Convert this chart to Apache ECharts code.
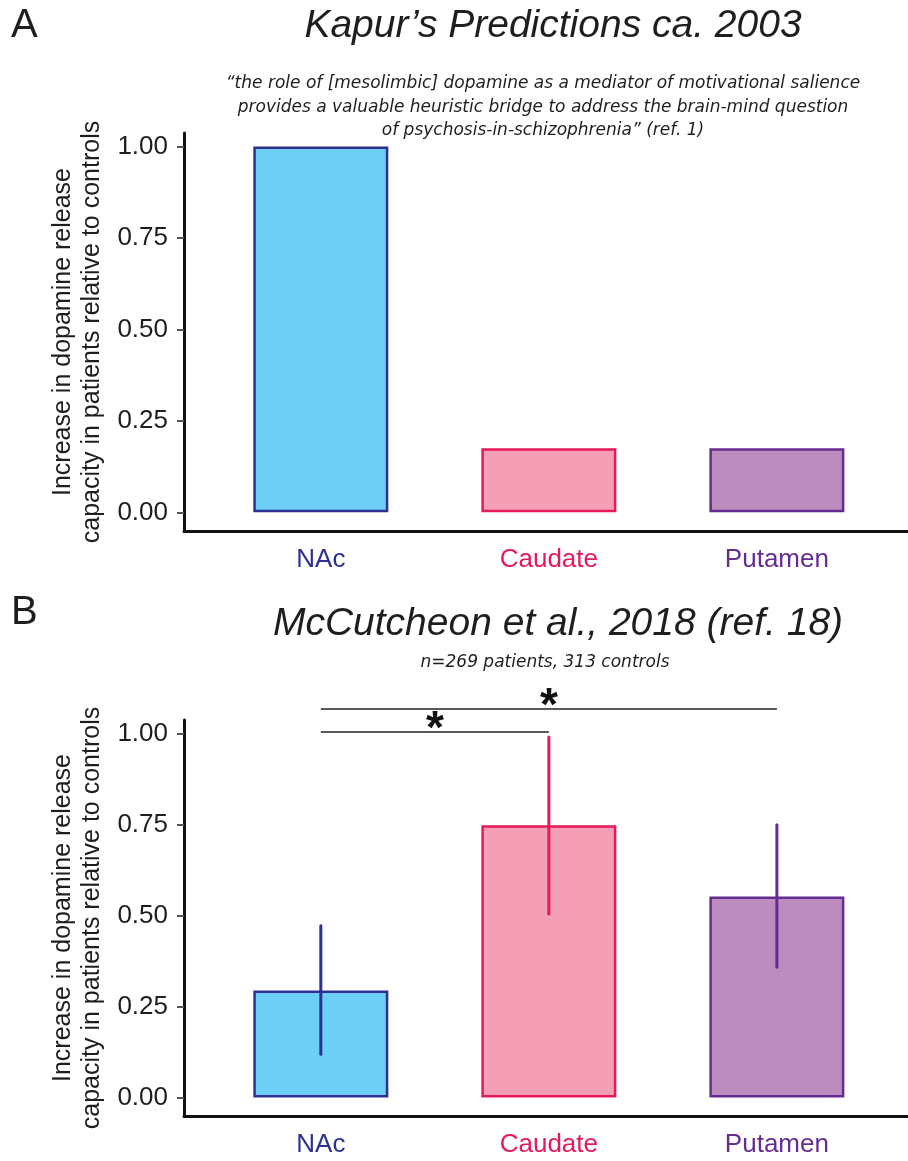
<!DOCTYPE html>
<html><head><meta charset="utf-8">
<script src="https://cdn.jsdelivr.net/npm/echarts@6/dist/echarts.min.js"></script>
<style>html,body{margin:0;padding:0;background:#fff}#c{width:908px;height:1161px}</style>
</head><body><div id="c"></div>
<script>
// ---------- data ----------
const categories = ['NAc', 'Caudate', 'Putamen'];
const predictedValues = [1.0, 0.175, 0.175];
const observedValues = [0.294, 0.748, 0.552];
const observedLower = [0.119, 0.504, 0.358];
const observedUpper = [0.472, 0.990, 0.749];
const yTickValues = [0, 0.25, 0.5, 0.75, 1.0];
// [from category #, to category #, bracket height, label]
const sigBrackets = [[1, 2, 1.004, '*'], [1, 3, 1.067, '*']];
const titleA = 'Kapur\u2019s Predictions ca. 2003';
const quoteLines = [
  '\u201Cthe role of [mesolimbic] dopamine as a mediator of motivational salience',
  'provides a valuable heuristic bridge to address the brain-mind question',
  'of psychosis-in-schizophrenia\u201D (ref. 1)'
];
const titleB = 'McCutcheon et al., 2018 (ref. 18)';
const subtitleB = 'n=269 patients, 313 controls';
const yAxisTitle = 'Increase in dopamine release\ncapacity in patients relative to controls';

// ---------- styles ----------
const palette = {
  stroke: ['#2e3192', '#e5195b', '#662d91'],
  fill: ['#6dcff6', '#f49fb6', '#bc8cbf']
};
const FONT = '"Liberation Sans", Arial, sans-serif';
const INK = '#1e1e1e';

const chart = echarts.init(document.getElementById('c'), null, {renderer: 'canvas'});

function makeXAxis(gi) {
  const rich = {};
  categories.forEach((c, i) => { rich['c' + i] = {color: palette.stroke[i], fontSize: 26, fontFamily: FONT}; });
  return {
    type: 'value', gridIndex: gi, min: 0.4, max: 3.575,
    splitLine: {show: false},
    axisLine: {show: true, onZero: false, lineStyle: {color: '#111', width: 3}},
    axisTick: {show: false},
    axisLabel: {
      customValues: categories.map((c, i) => i + 1),
      formatter: v => '{c' + (v - 1) + '|' + categories[v - 1] + '}',
      rich: rich, margin: 16
    }
  };
}
function makeYAxis(gi) {
  return {
    type: 'value', gridIndex: gi, min: -0.051, max: 1.037,
    splitLine: {show: false},
    axisLine: {show: true, onZero: false, lineStyle: {color: '#111', width: 3}},
    axisTick: {show: true, customValues: yTickValues, length: 7, lineStyle: {color: '#555', width: 2}},
    axisLabel: {customValues: yTickValues, formatter: v => v.toFixed(2), fontSize: 26, color: INK, fontFamily: FONT, margin: 16},
    name: yAxisTitle, nameLocation: 'middle', nameRotate: 90, nameGap: 77,
    nameTextStyle: {fontSize: 25, lineHeight: 29, color: INK, fontFamily: FONT, align: 'center'}
  };
}
function barData(vals) {
  return vals.map((v, i) => ({
    value: [i + 1, v],
    itemStyle: {color: palette.fill[i], borderColor: palette.stroke[i], borderWidth: 2.5}
  }));
}

function txt(text, x, y, font, align) {
  return {type: 'text', x: x, y: y, silent: true,
    style: {text: text, font: font, fill: INK, align: align || 'center', textAlign: align || 'center', verticalAlign: 'middle', textVerticalAlign: 'middle'}};
}

const graphics = [
  txt('A', 11, 26, 'normal 40px ' + FONT, 'left'),
  txt(titleA, 553, 26, 'italic 39px ' + FONT),
  txt('B', 11, 613, 'normal 40px ' + FONT, 'left'),
  txt(titleB, 558, 624, 'italic 39px ' + FONT),
  txt(subtitleB, 545, 663, 'italic 17px "DejaVu Sans", sans-serif')
];
quoteLines.forEach((l, i) => graphics.push(txt(l, 543, 84 + i * 23.5, 'italic 17px "DejaVu Sans", sans-serif')));

const option = {
  animation: false,
  backgroundColor: '#fff',
  textStyle: {fontFamily: FONT},
  grid: [
    {left: 184, right: 0, top: 133, height: 398},
    {left: 184, right: 0, top: 720, height: 396}
  ],
  xAxis: [makeXAxis(0), makeXAxis(1)],
  yAxis: [makeYAxis(0), makeYAxis(1)],
  graphic: graphics,
  series: [
    {type: 'bar', xAxisIndex: 0, yAxisIndex: 0, barWidth: 135, data: barData(predictedValues)},
    {type: 'bar', xAxisIndex: 1, yAxisIndex: 1, barWidth: 135, data: barData(observedValues)},
    {
      type: 'custom', xAxisIndex: 1, yAxisIndex: 1, clip: false, z: 5,
      data: categories.map((c, i) => [i + 1, observedLower[i], observedUpper[i]]),
      renderItem: (params, api) => {
        const x = api.value(0);
        const p1 = api.coord([x, api.value(1)]);
        const p2 = api.coord([x, api.value(2)]);
        return {type: 'line', shape: {x1: p1[0], y1: p1[1], x2: p2[0], y2: p2[1]},
          style: {stroke: palette.stroke[params.dataIndex], lineWidth: 3, lineCap: 'round'}};
      }
    },
    {
      type: 'custom', xAxisIndex: 1, yAxisIndex: 1, clip: false, z: 6,
      data: sigBrackets.map(b => [b[0], b[1], b[2]]),
      renderItem: (params, api) => {
        const a = api.coord([api.value(0), api.value(2)]);
        const b = api.coord([api.value(1), api.value(2)]);
        return {type: 'group', children: [
          {type: 'line', shape: {x1: a[0], y1: a[1], x2: b[0], y2: b[1]}, style: {stroke: '#222', lineWidth: 1.5}},
          {type: 'text', x: (a[0] + b[0]) / 2, y: a[1] - 2,
            style: {text: sigBrackets[params.dataIndex][3], font: 'bold 46px ' + FONT, fill: '#111',
              align: 'center', verticalAlign: 'middle', textAlign: 'center', textVerticalAlign: 'middle'}}
        ]};
      }
    }
  ]
};
chart.setOption(option);
</script>
</body></html>
